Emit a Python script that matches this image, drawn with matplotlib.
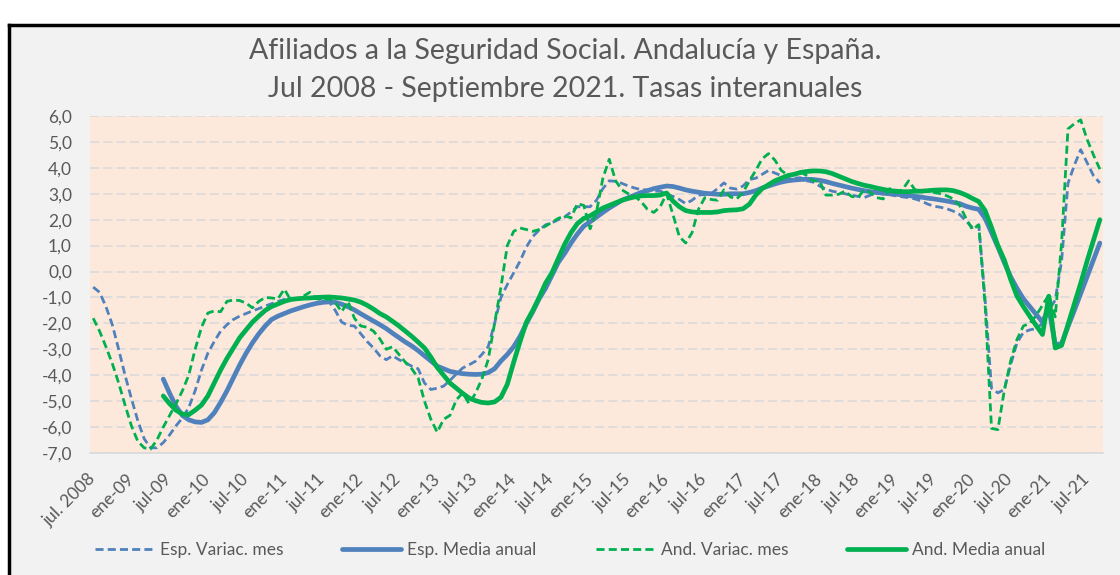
import numpy as np
import matplotlib
matplotlib.use("Agg")
import matplotlib.pyplot as plt
from matplotlib.patches import Rectangle
from matplotlib.lines import Line2D

# Afiliados a la Seguridad Social: tasas interanuales (%), jul 2008 - sep 2021
# one row per year, July .. June
esp_mes = [
    -0.6, -0.8, -1.35, -2.05, -3.0, -4.0, -4.9, -5.75, -6.45, -6.8, -6.8, -6.6,
    -6.3, -5.95, -5.65, -5.25, -4.6, -3.8, -3.15, -2.7, -2.3, -2.05, -1.85, -1.72,
    -1.62, -1.52, -1.43, -1.33, -1.24, -1.15, -1.08, -1.06, -1.05, -1.04, -1.03, -1.03,
    -1.05, -1.15, -1.5, -1.95, -2.08, -2.1, -2.4, -2.7, -2.95, -3.25, -3.4, -3.25,
    -3.4, -3.52, -3.65, -3.75, -4.3, -4.55, -4.5, -4.42, -4.2, -3.95, -3.72, -3.6,
    -3.46, -3.2, -2.9, -2.0, -1.0, -0.5, -0.05, 0.4, 0.95, 1.35, 1.6, 1.8,
    1.88, 2.0, 2.1, 2.3, 2.5, 2.5, 2.5, 2.75, 3.2, 3.5, 3.48, 3.4,
    3.3, 3.22, 3.16, 3.15, 3.1, 3.1, 3.0, 2.9, 2.78, 2.62, 2.75, 2.95,
    2.97, 3.0, 3.2, 3.42, 3.22, 3.18, 3.3, 3.55, 3.6, 3.75, 3.9, 3.8,
    3.7, 3.58, 3.6, 3.62, 3.5, 3.45, 3.3, 3.18, 3.1, 3.05, 3.0, 2.95,
    2.9, 2.85, 2.95, 3.02, 3.0, 2.97, 2.92, 2.88, 2.85, 2.8, 2.72, 2.6,
    2.52, 2.48, 2.42, 2.33, 2.2, 1.95, 1.7, 1.8, -1.1, -4.5, -4.68, -4.55,
    -3.6, -2.75, -2.35, -2.25, -2.2, -2.0, -1.5, -1.1, 0.4, 3.4, 4.1, 4.7,
    4.2, 3.7, 3.42,
]

esp_media = [np.nan] * 11 + [
    -4.15,
    -4.7, -5.2, -5.55, -5.72, -5.8, -5.82, -5.72, -5.45, -5.05, -4.6, -4.1, -3.6,
    -3.15, -2.75, -2.4, -2.1, -1.85, -1.72, -1.62, -1.52, -1.44, -1.36, -1.29, -1.23,
    -1.19, -1.17, -1.19, -1.26, -1.36, -1.48, -1.63, -1.77, -1.91, -2.05, -2.2, -2.38,
    -2.55, -2.72, -2.87, -3.05, -3.25, -3.45, -3.65, -3.75, -3.85, -3.9, -3.94, -3.96,
    -3.97, -3.96, -3.9, -3.75, -3.45, -3.2, -2.9, -2.5, -2.0, -1.55, -1.05, -0.65,
    -0.15, 0.35, 0.7, 1.1, 1.45, 1.75, 1.92, 2.1, 2.28, 2.45, 2.6, 2.75,
    2.85, 2.95, 3.05, 3.12, 3.2, 3.25, 3.3, 3.28, 3.22, 3.15, 3.1, 3.06,
    3.02, 3.0, 2.98, 2.98, 3.0, 3.0, 3.0, 3.05, 3.12, 3.22, 3.3, 3.38,
    3.45, 3.5, 3.53, 3.55, 3.56, 3.55, 3.52, 3.47, 3.4, 3.34, 3.28, 3.22,
    3.17, 3.12, 3.08, 3.05, 3.02, 3.0, 2.98, 2.96, 2.93, 2.9, 2.87, 2.83,
    2.8, 2.76, 2.72, 2.67, 2.62, 2.52, 2.45, 2.4, 2.05, 1.5, 0.95, 0.35,
    -0.2, -0.65, -1.05, -1.35, -1.65, -1.95, -1.4, -2.82, -2.78, -2.13, -1.5, -0.85,
    -0.2, 0.45, 1.1,
]

and_mes = [
    -1.8, -2.3, -2.9, -3.55, -4.3, -5.15, -5.95, -6.55, -6.8, -6.85, -6.5, -6.0,
    -5.55, -5.1, -4.6, -4.0, -3.0, -2.15, -1.6, -1.52, -1.55, -1.15, -1.1, -1.12,
    -1.22, -1.4, -1.15, -1.0, -1.02, -1.05, -0.68, -1.1, -1.05, -0.95, -0.8, -1.05,
    -1.08, -1.05, -1.2, -1.55, -1.15, -1.8, -2.1, -2.15, -2.3, -2.6, -3.0, -2.9,
    -3.2, -3.5, -3.75, -4.1, -5.0, -5.7, -6.2, -5.7, -5.55, -4.95, -4.68, -5.1,
    -4.7, -4.15, -3.4, -2.0, -0.6, 1.0, 1.55, 1.68, 1.62, 1.55, 1.62, 1.75,
    1.9, 2.05, 2.15, 2.07, 2.62, 2.55, 1.65, 2.3, 3.6, 4.33, 3.5, 3.15,
    3.0, 2.9, 2.7, 2.4, 2.28, 2.5, 3.0, 2.2, 1.35, 1.1, 1.5, 2.4,
    2.85, 2.78, 2.75, 3.15, 2.88, 2.8, 3.05, 3.5, 3.9, 4.35, 4.55, 4.3,
    3.9, 3.72, 3.75, 3.85, 3.7, 3.5, 3.5, 2.95, 2.95, 2.98, 3.1, 2.9,
    2.85, 3.15, 3.05, 2.85, 2.8, 3.2, 3.05, 3.15, 3.5, 3.15, 3.1, 3.1,
    3.05, 3.0, 2.92, 2.8, 2.55, 2.05, 1.62, 1.8, -1.3, -6.05, -6.1, -4.6,
    -3.45, -2.62, -2.1, -2.0, -1.7, -1.3, -0.9, -1.75, 1.1, 5.5, 5.7, 5.85,
    5.1, 4.5, 3.95,
]

and_media = [np.nan] * 11 + [
    -4.8,
    -5.1, -5.35, -5.5, -5.52, -5.35, -5.15, -4.8, -4.3, -3.8, -3.35, -2.95, -2.55,
    -2.25, -1.95, -1.72, -1.5, -1.35, -1.25, -1.15, -1.08, -1.05, -1.03, -1.02, -1.0,
    -0.99, -0.98, -1.0, -1.02, -1.06, -1.1, -1.18, -1.3, -1.45, -1.62, -1.75, -1.92,
    -2.1, -2.3, -2.5, -2.72, -2.95, -3.3, -3.7, -4.0, -4.3, -4.5, -4.7, -4.88,
    -4.98, -5.05, -5.07, -5.03, -4.85, -4.35, -3.5, -2.7, -1.95, -1.5, -1.0, -0.45,
    -0.05, 0.5, 1.05, 1.5, 1.85, 2.05, 2.15, 2.3, 2.45, 2.55, 2.65, 2.75,
    2.82, 2.88, 2.92, 2.93, 2.93, 2.95, 3.03, 2.72, 2.5, 2.35, 2.3, 2.28,
    2.28, 2.28, 2.3, 2.35, 2.37, 2.38, 2.42, 2.6, 2.95, 3.2, 3.35, 3.5,
    3.6, 3.7, 3.75, 3.82, 3.86, 3.88, 3.88, 3.85, 3.78, 3.68, 3.58, 3.48,
    3.4, 3.33, 3.28, 3.22, 3.17, 3.12, 3.1, 3.08, 3.08, 3.1, 3.1, 3.12,
    3.14, 3.15, 3.15, 3.12, 3.05, 2.95, 2.82, 2.7, 2.35, 1.7, 1.0, 0.45,
    -0.3, -0.95, -1.35, -1.72, -2.08, -2.43, -0.95, -2.95, -2.85, -2.05, -1.25, -0.45,
    0.4, 1.2, 2.0,
]

# category labels, one every six months
tick_labels = ["jul. 2008"]
for yy in range(9, 22):
    tick_labels += ["ene-%02d" % yy, "jul-%02d" % yy]

series_names = ["Esp. Variac. mes", "Esp. Media anual",
                "And. Variac. mes", "And. Media anual"]

BLUE = "#4f81bd"
GREEN = "#00b050"
TXT = "#595959"

plt.rcParams["font.family"] = ["Lato", "DejaVu Sans"]

fig = plt.figure(figsize=(11.2, 5.75), dpi=100, facecolor="white")

# chart area (grey) with the black frame on top and left
fig.patches.append(Rectangle((9 / 1120, 0), 1, 550 / 575, transform=fig.transFigure,
                             facecolor="#f2f2f2", edgecolor="none", zorder=-2))
fig.add_artist(Line2D([9 / 1120, 1], [550 / 575, 550 / 575], color="black", lw=2.5))
fig.add_artist(Line2D([9 / 1120, 9 / 1120], [0, 550 / 575], color="black", lw=2.5))

ax = fig.add_axes([90 / 1120, 1 - 453 / 575, 1013 / 1120, 337 / 575])
ax.set_facecolor("#fce9db")

x = np.arange(len(esp_mes))
ax.plot(x, esp_mes, color=BLUE, lw=2.0, linestyle=(0, (2.9, 1.5)), label=series_names[0])
ax.plot(x, esp_media, color=BLUE, lw=3.4, solid_joinstyle="round", solid_capstyle="round",
        label=series_names[1])
ax.plot(x, and_mes, color=GREEN, lw=2.0, linestyle=(0, (2.9, 1.5)), label=series_names[2])
ax.plot(x, and_media, color=GREEN, lw=3.4, solid_joinstyle="round", solid_capstyle="round",
        label=series_names[3])

ax.set_xlim(-0.5, len(esp_mes) - 0.5)
ax.set_ylim(-7, 6)
ax.set_yticks(range(-7, 7))
ax.set_yticklabels([("%.1f" % v).replace(".", ",") for v in range(-7, 7)])
ax.yaxis.grid(True, color="#d9d9d9", lw=1.1, linestyle=(0, (6, 2.7)))
ax.set_axisbelow(True)

ax.set_xticks(np.arange(0, len(esp_mes), 6))
ax.set_xticklabels(tick_labels, rotation=45, ha="right", va="center",
                   rotation_mode="anchor")
ax.tick_params(axis="both", length=0, labelsize=12.5, labelcolor=TXT)
ax.tick_params(axis="x", pad=17)
ax.tick_params(axis="y", pad=13)

for side in ["top", "left", "right"]:
    ax.spines[side].set_visible(False)
ax.spines["bottom"].set_color("#d9d9d9")
ax.spines["bottom"].set_linewidth(1.2)

fig.text(0.505, 1 - 51 / 575, "Afiliados a la Seguridad Social. Andalucía y España.",
         ha="center", va="center", fontsize=20.5, color=TXT)
fig.text(0.505, 1 - 89 / 575, "Jul 2008 - Septiembre 2021. Tasas interanuales",
         ha="center", va="center", fontsize=20.5, color=TXT)

fig.legend(loc="center", bbox_to_anchor=(0.509, 1 - 550 / 575), ncol=4, frameon=False,
           fontsize=12.5, labelcolor=TXT, handlelength=3.4, handletextpad=0.35,
           columnspacing=3.4)

fig.savefig("out.png", dpi=100, facecolor=fig.get_facecolor())
